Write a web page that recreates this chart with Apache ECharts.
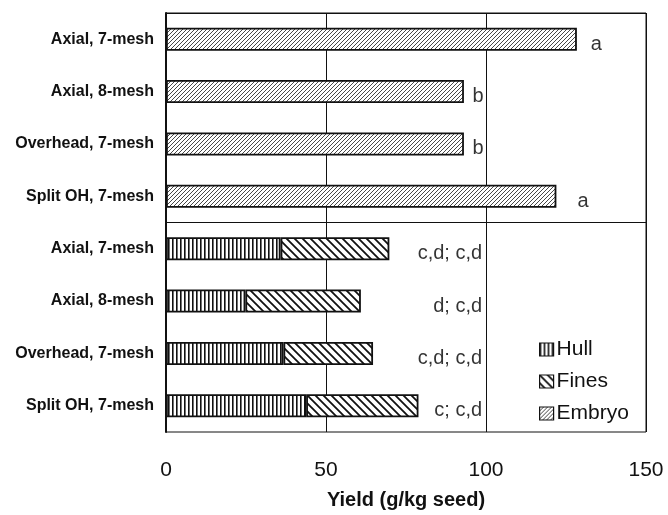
<!DOCTYPE html>
<html><head><meta charset="utf-8">
<script src="https://cdn.jsdelivr.net/npm/echarts@6/dist/echarts.min.js"></script>
<style>html,body{margin:0;padding:0;background:#fff}#c{width:668px;height:515px}</style>
</head><body><div id="c"></div>
<script>
var categories = ["Axial, 7-mesh","Axial, 8-mesh","Overhead, 7-mesh","Split OH, 7-mesh","Axial, 7-mesh","Axial, 8-mesh","Overhead, 7-mesh","Split OH, 7-mesh"];
var hull   = ['-','-','-','-',35.8,24.8,36.7,43.8];
var fines  = ['-','-','-','-',34.0,36.1,28.0,35.1];
var embryo = [128.4,93.1,93.1,122.0,'-','-','-','-'];
var letters = ['a','b','b','a','c,d; c,d','d; c,d','c,d; c,d','c; c,d'];
var letterX = [134.5,97.5,97.5,130.3,98.8,98.8,98.8,98.8];
var xTicks = [0,50,100,150];
var groupDivider = 4;

function pat(w,h,draw){var c=document.createElement('canvas');c.width=w;c.height=h;var g=c.getContext('2d');g.fillStyle='#fff';g.fillRect(0,0,w,h);draw(g,w,h);return {image:c,repeat:'repeat'};}
var hullPat = pat(4,4,function(g,w,h){g.fillStyle='#111';g.fillRect(0,0,1.6,h);});
var finesPat = pat(8,8,function(g,w,h){g.strokeStyle='#111';g.lineWidth=1.8;g.beginPath();g.moveTo(-1,-1);g.lineTo(9,9);g.moveTo(-1,7);g.lineTo(1,9);g.moveTo(7,-1);g.lineTo(9,1);g.stroke();});
var embPat = pat(4,4,function(g,w,h){g.strokeStyle='#333';g.lineWidth=0.9;g.beginPath();g.moveTo(-1,5);g.lineTo(5,-1);g.moveTo(-1,1);g.lineTo(1,-1);g.moveTo(3,5);g.lineTo(5,3);g.stroke();});

var chart = echarts.init(document.getElementById('c'));
var labelData = letters.map(function(t,i){
  return {value:[letterX[i], i], name:t, label:{align: i<4?'center':'right'}};
});
var bs = {borderColor:'#111',borderWidth:1.8};
var F = 'Liberation Sans, Arial, sans-serif';
chart.setOption({
  animation:false,
  grid:{left:166,right:22,top:13,bottom:80,show:true,borderColor:'#111',borderWidth:1,backgroundColor:'transparent'},
  xAxis:{type:'value',min:0,max:150,interval:50,
    axisLine:{show:true,lineStyle:{color:'#111',width:1}},
    axisTick:{show:true,length:6,lineStyle:{color:'#111'}},
    axisLabel:{fontFamily:F,fontSize:21,color:'#111',margin:28,
      formatter:function(v){return xTicks.indexOf(v)>=0?String(v):'';}},
    splitLine:{show:true,lineStyle:{color:'#111',width:1}},
    name:'Yield (g/kg seed)',nameLocation:'middle',nameGap:58,
    nameTextStyle:{fontFamily:F,fontSize:20,fontWeight:'bold',color:'#111'}},
  yAxis:[{type:'category',data:categories,inverse:true,
    axisLine:{show:true,lineStyle:{color:'#111',width:2}},
    axisTick:{show:false},
    axisLabel:{fontFamily:F,fontSize:16,fontWeight:'bold',color:'#111',margin:12},
    splitLine:{show:false}},
    {type:'value',min:0,max:categories.length,inverse:true,show:false}],
  legend:{orient:'vertical',left:534,top:334,itemWidth:14,itemHeight:13,itemGap:11,icon:'rect',
    data:['Hull','Fines','Embryo'],
    textStyle:{fontFamily:F,fontSize:21,color:'#111',padding:[0,0,0,-2]},
    itemStyle:{borderColor:'#111',borderWidth:1.2}},
  series:[
    {name:'Hull',type:'bar',stack:'s',data:hull,barWidth:23,itemStyle:Object.assign({color:hullPat},bs)},
    {name:'Fines',type:'bar',stack:'s',data:fines,barWidth:23,itemStyle:Object.assign({color:finesPat},bs)},
    {name:'Embryo',type:'bar',stack:'s',data:embryo,barWidth:23,itemStyle:Object.assign({color:embPat},bs)},
    {name:'labels',type:'scatter',symbolSize:0,data:labelData,silent:true,
      label:{show:true,position:'inside',offset:[0,5],formatter:function(p){return p.name;},
        fontFamily:F,fontSize:20,color:'#000',verticalAlign:'middle'}},
    {name:'divider',type:'line',yAxisIndex:1,data:[],silent:true,
      markLine:{silent:true,symbol:'none',label:{show:false},animation:false,
        lineStyle:{color:'#111',width:1,type:'solid'},data:[{yAxis:groupDivider}]}}
  ]
});
</script></body></html>
